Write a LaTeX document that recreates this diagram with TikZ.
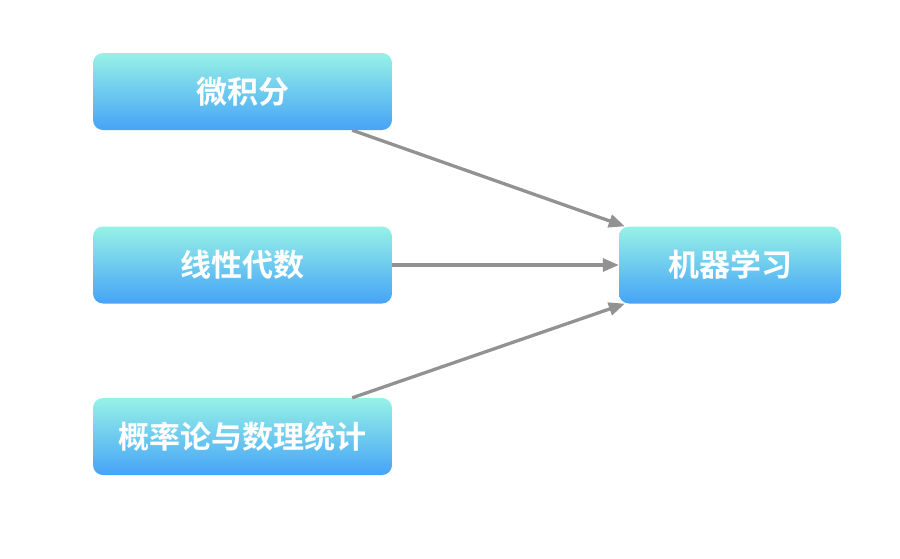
\documentclass[tikz,border=0pt]{standalone}
\usepackage{fontspec}
\newfontfamily\cjk{Noto Sans CJK SC}[BoldFont={Noto Sans CJK SC Bold}]
\usetikzlibrary{arrows.meta,calc}
\definecolor{topc}{HTML}{96F2E6}
\definecolor{botc}{HTML}{46A3F7}
\definecolor{arr}{HTML}{929292}
\begin{document}
\begin{tikzpicture}[x=1pt,y=-1pt,
  box/.style={rounded corners=10pt, top color=topc, bottom color=botc, draw=none,
    minimum height=77pt, text=white, font=\cjk\bfseries\fontsize{31}{33}\selectfont, inner sep=0pt},
  wide/.style={box, minimum width=299pt},
  conn/.style={draw=arr, line width=3.3pt, -{Triangle[length=16pt,width=13pt]}}]
\useasboundingbox (0,0) rectangle (900,558);
\node[wide] (calc) at (242.5,91.5) {微积分};
\node[wide] (lin) at (242.5,265) {线性代数};
\node[wide] (prob) at (242.5,436.5) {概率论与数理统计};
\node[box, minimum width=222pt] (ml) at (730,265) {机器学习};
\draw[conn] ($(calc.south east)+(-40,0)$) -- ($(ml.north west)+(6,0)$);
\draw[conn] (lin.east) -- (ml.west);
\draw[conn] ($(prob.north east)+(-40,0)$) -- ($(ml.south west)+(6,0)$);
\end{tikzpicture}
\end{document}
